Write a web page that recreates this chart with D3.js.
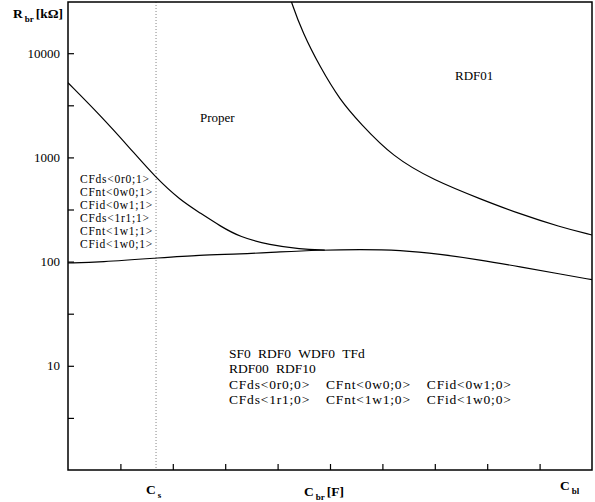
<!DOCTYPE html>
<html lang="en">
  <head>
    <meta charset="UTF-8">
    <title>Rbr vs Cbr</title>
    <style>
      body { margin: 0; background: #fff; }
      text { font-family: "Liberation Serif", "DejaVu Serif", serif; fill: #000; }
    </style>
  </head>
  <body>
    <div id="chart"></div>
    <script src="https://d3js.org/d3.v7.min.js"></script>
    <script>
      // curves: x in tick units (0..10), y in kOhm
      let upperLeftX = [0, 0.61, 1.18, 1.68, 2.14, 2.52, 2.90, 3.28, 3.85, 4.43, 4.90];
      let upperLeftY = [5200, 2550, 1230, 634, 390, 293, 220, 172, 144, 132, 129];
      let lowerX = [0, 0.61, 1.68, 2.52, 3.28, 4.05, 4.81, 5.57, 6.34, 7.10, 7.86, 8.63, 9.39, 10];
      let lowerY = [97, 99, 108, 116, 118, 124, 129, 131, 129, 118, 104, 89, 76, 67];
      let rdf01X = [4.20, 4.26, 4.48, 4.81, 5.19, 5.57, 6.20, 6.97, 7.92, 8.57, 9.39, 10];
      let rdf01Y = [40000, 31000, 15600, 7380, 3550, 2140, 1010, 607, 390, 293, 215, 180];

      let cs = 1.68;
      let xTicks = [1, 2, 3, 4, 5, 6, 7, 8, 9];
      let yTicks = [3.162, 10, 31.62, 100, 316.2, 1000, 3162, 10000];
      let yLabels = {10: "10", 100: "100", 1000: "1000", 10000: "10000"};

      let leftFaults = ["CFds<0r0;1>", "CFnt<0w0;1>", "CFid<0w1;1>", "CFds<1r1;1>", "CFnt<1w1;1>", "CFid<1w0;1>"];
      let bottomFaults = [
        ["SF0", "RDF0", "WDF0", "TFd"],
        ["RDF00", "RDF10"],
        ["CFds<0r0;0>", "CFnt<0w0;0>", "CFid<0w1;0>"],
        ["CFds<1r1;0>", "CFnt<1w1;0>", "CFid<1w0;0>"]
      ];

      let width = 595;
      let height = 502;
      let pLeft = 68, pRight = 592, pTop = 2, pBottom = 470;

      let svg = d3.select("#chart").append("svg").attr("width", width).attr("height", height);

      let x = d3.scaleLinear().domain([0, 10]).range([pLeft, pRight]);
      let y = d3.scaleLog().domain([1, 31000]).range([pBottom, pTop]);

      svg.append("clipPath").attr("id", "plot")
        .append("rect").attr("x", pLeft).attr("y", pTop).attr("width", pRight - pLeft).attr("height", pBottom - pTop);

      // Cs marker
      svg.append("line")
        .attr("x1", x(cs)).attr("x2", x(cs)).attr("y1", pTop).attr("y2", pBottom)
        .attr("stroke", "#666").attr("stroke-width", 0.8).attr("stroke-dasharray", "1,2");

      let line = d3.line().x(d => x(d[0])).y(d => y(d[1])).curve(d3.curveBasis);
      let curves = [d3.zip(upperLeftX, upperLeftY), d3.zip(lowerX, lowerY), d3.zip(rdf01X, rdf01Y)];
      svg.append("g").attr("clip-path", "url(#plot)")
        .selectAll("path").data(curves).enter().append("path")
        .attr("d", line)
        .attr("fill", "none").attr("stroke", "#000").attr("stroke-width", 1.2);

      // axes: ticks pointing inward, no domain line (frame drawn separately)
      let xAxis = svg.append("g").attr("transform", "translate(0," + pBottom + ")")
        .call(d3.axisBottom(x).tickValues(xTicks).tickSize(-6).tickFormat(""));
      let yAxis = svg.append("g").attr("transform", "translate(" + pLeft + ",0)")
        .call(d3.axisLeft(y).tickValues(yTicks).tickSize(-6).tickPadding(8)
          .tickFormat(d => Math.abs(d - Math.round(d)) < 0.01 && yLabels[Math.round(d)] ? yLabels[Math.round(d)] : ""));
      [xAxis, yAxis].forEach(function(g) {
        g.select(".domain").remove();
        g.selectAll(".tick line").attr("stroke", "#000").attr("stroke-width", 1.2);
      });
      yAxis.selectAll(".tick text").attr("font-size", 13).attr("font-family", "Liberation Serif").attr("fill", "#000");

      svg.append("rect")
        .attr("x", pLeft).attr("y", pTop).attr("width", pRight - pLeft).attr("height", pBottom - pTop)
        .attr("fill", "none").attr("stroke", "#000").attr("stroke-width", 1.5);

      // axis titles
      function subLabel(tx, ty, main, sub, tail) {
        let t = svg.append("text").attr("x", tx).attr("y", ty).attr("font-size", 13.5).attr("font-weight", "bold");
        t.append("tspan").text(main);
        t.append("tspan").attr("font-size", 9).attr("dy", 4).attr("dx", 2).text(sub);
        if (tail) t.append("tspan").attr("dy", -4).attr("dx", 2).text(tail);
        return t;
      }
      subLabel(13, 18, "R", "br", "[k\u03A9]");
      subLabel(x(cs) - 10, 494, "C", "s");
      subLabel(304, 496, "C", "br", "[F]");
      subLabel(560, 490, "C", "bl");

      // region labels
      svg.append("text").attr("x", 200).attr("y", 122).attr("font-size", 13).text("Proper");
      svg.append("text").attr("x", 455).attr("y", 80).attr("font-size", 13).text("RDF01");

      svg.append("g").selectAll("text").data(leftFaults).enter().append("text")
        .attr("x", 80).attr("y", (d, i) => 183 + i * 13)
        .attr("font-size", 11.5).attr("letter-spacing", 0.75).text(d => d);

      bottomFaults.forEach(function(row, r) {
        let cx = 229;
        let gap = r < 2 ? 7 : 16;
        row.forEach(function(name) {
          let t = svg.append("text").attr("x", cx).attr("y", 358 + r * 15.3)
            .attr("font-size", 13.5).attr("letter-spacing", r < 2 ? 0 : 0.8).text(name);
          cx += t.node().getBBox().width + gap;
        });
      });
    </script>
  </body>
</html>
